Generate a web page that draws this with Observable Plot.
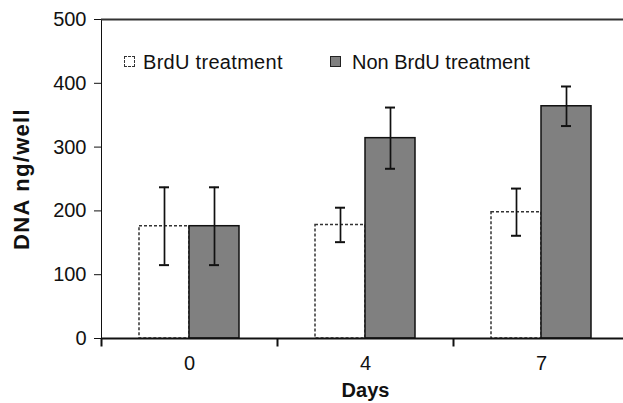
<!DOCTYPE html>
<html>
<head>
<meta charset="utf-8">
<script src="https://cdn.jsdelivr.net/npm/d3@7"></script>
<script src="https://cdn.jsdelivr.net/npm/@observablehq/plot@0.6"></script>
<style>
  body { margin: 0; background: #fff; }
  #wrap { position: relative; width: 623px; height: 403px; overflow: hidden; font-family: "Liberation Sans", Arial, sans-serif; }
  .leg { position: absolute; font-size: 20px; line-height: 24px; color: #111; white-space: nowrap; }
  .sw { position: absolute; width: 11px; height: 11px; box-sizing: border-box; }
</style>
</head>
<body>
<div id="wrap">
  <div id="chart"></div>
  <span class="sw" style="left:124px; top:56px; border:1.5px dashed #333; background:#fff;"></span>
  <span class="leg" style="left:143px; top:50px; letter-spacing:0.3px;">BrdU treatment</span>
  <span class="sw" style="left:330px; top:56px; border:1.5px solid #222; background:#808080;"></span>
  <span class="leg" style="left:352px; top:50px;">Non BrdU treatment</span>
</div>
<script>
const days = ["0", "4", "7"];
const series = ["BrdU treatment", "Non BrdU treatment"];
const brduMean = [176, 178, 198];
const brduErr = [61, 27, 37];
const nonMean = [176, 314, 364];
const nonErr = [61, 48, 31];
const yTicks = [0, 100, 200, 300, 400, 500];

const data = days.flatMap((d, i) => [
  {day: d, series: series[0], v: brduMean[i], e: brduErr[i]},
  {day: d, series: series[1], v: nonMean[i], e: nonErr[i]}
]);
const brdu = data.filter(d => d.series === series[0]);
const non = data.filter(d => d.series === series[1]);

const tickSymbol = { draw(ctx) { ctx.moveTo(0, 0); ctx.lineTo(0, 8); } };

const chart = Plot.plot({
  width: 623,
  height: 403,
  marginLeft: 101,
  marginRight: -6,
  marginTop: 19,
  marginBottom: 65,
  style: { fontFamily: "'Liberation Sans', Arial, sans-serif", fontSize: "20px", color: "#111", background: "#fff" },
  fx: { domain: days, padding: 0, axis: "bottom", tickSize: 0, tickPadding: 17, label: "Days", labelAnchor: "center", labelArrow: "none", labelOffset: 58 },
  x: { domain: series, paddingInner: 0, paddingOuter: 0.76, axis: null },
  y: { domain: [0, 500], ticks: yTicks, tickSize: 7, tickPadding: 8, tickFormat: d => String(d), label: "DNA ng/well", labelAnchor: "center", labelArrow: "none", labelOffset: 88, line: true },
  marks: [
    Plot.barY(brdu, { fx: "day", x: "series", y: "v", fill: "#fff", stroke: "#333", strokeWidth: 1.5, strokeDasharray: "3,2" }),
    Plot.barY(non, { fx: "day", x: "series", y: "v", fill: "#808080", stroke: "#111", strokeWidth: 1.5 }),
    Plot.ruleX(data, { fx: "day", x: "series", y1: d => d.v - d.e, y2: d => d.v + d.e, stroke: "#111", strokeWidth: 1.7 }),
    Plot.tickY(data, { fx: "day", x: "series", y: d => d.v - d.e, insetLeft: 20, insetRight: 20, stroke: "#111", strokeWidth: 2 }),
    Plot.tickY(data, { fx: "day", x: "series", y: d => d.v + d.e, insetLeft: 20, insetRight: 20, stroke: "#111", strokeWidth: 2 }),
    Plot.ruleY([500], { stroke: "#333", strokeWidth: 2 }),
    Plot.ruleY([0], { stroke: "#111", strokeWidth: 2 }),
    Plot.dot([0], { frameAnchor: "bottom-left", symbol: tickSymbol, r: 4, stroke: "#111", strokeWidth: 2, fill: "none" })
  ]
});

const svg = d3.select(chart);
svg.selectAll('g[aria-label="y-axis label"] text').attr("font-weight", "bold").attr("font-size", "22px").attr("letter-spacing", "1.3px");
svg.selectAll('g[aria-label="fx-axis label"] text').attr("font-weight", "bold");
svg.selectAll('g[aria-label="y-axis line"], g[aria-label="y-axis line"] *').attr("stroke-width", 2);
document.getElementById("chart").appendChild(chart);
</script>
</body>
</html>
